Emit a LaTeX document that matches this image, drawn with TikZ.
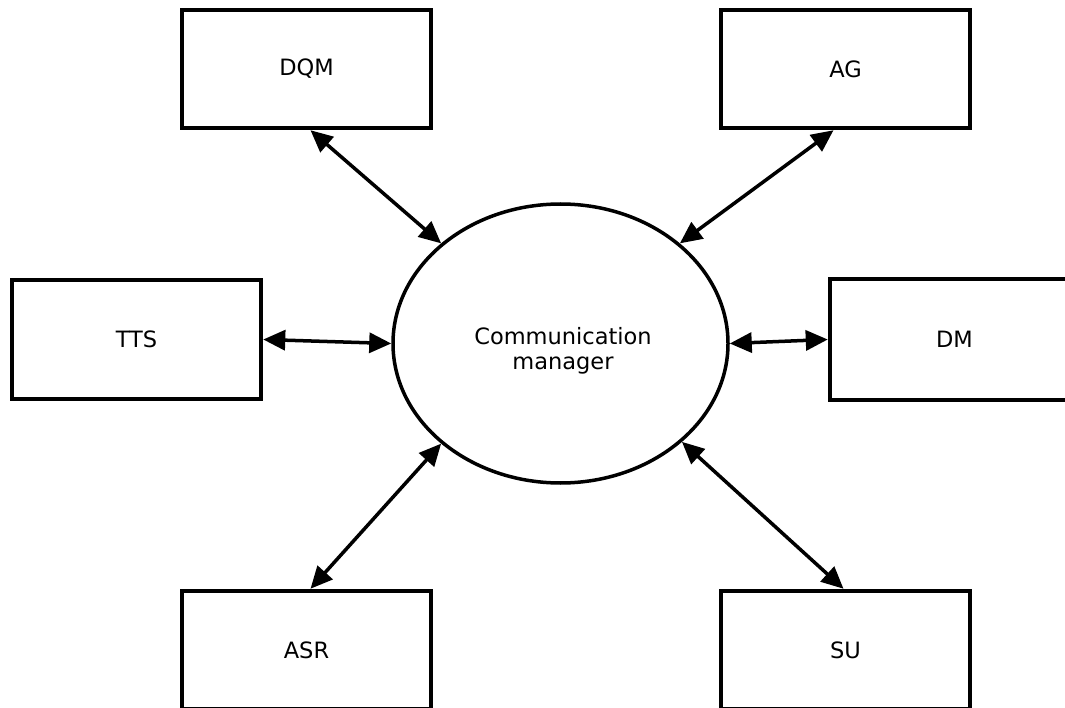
\documentclass[tikz,border=0pt]{standalone}
\usepackage{fontspec}
\setmainfont{DejaVu Sans}
\usetikzlibrary{arrows.meta,shapes.geometric}
\begin{document}
\begin{tikzpicture}[x=1pt,y=-1pt,
  box/.style={draw=black,line width=4.5pt,rectangle,minimum width=249pt,minimum height=118pt,inner sep=0pt,font=\fontsize{22.5}{26}\selectfont},
  hub/.style={draw=black,line width=3.5pt,ellipse,minimum width=335pt,minimum height=279pt,inner sep=0pt},
  hubtext/.style={align=center,inner sep=0pt,font=\fontsize{22.5}{25.5}\selectfont},
  link/.style={line width=3.5pt,{Triangle[length=22pt,width=20pt]}-{Triangle[length=22pt,width=20pt]}}]
\useasboundingbox (0,0) rectangle (1065,708);
\clip (0,0) rectangle (1065,708);
\fill[white] (0,0) rectangle (1065,708);
\node[hub] (cm) at (560.5,343.5) {};
\node[hubtext] (cmtext) at (563,351) {Communication\\manager};
\node[box] (dqm) at (306.5,69) {DQM};
\node[box] (ag) at (845.5,69) {AG};
\node[box,minimum height=119pt] (tts) at (136.5,339.5) {TTS};
\node[box,minimum height=121pt] (dm) at (954.5,339.5) {DM};
\node[box] (asr) at (306.5,650) {ASR};
\node[box] (su) at (845.5,650) {SU};
\draw[link] ([xshift=4pt]dqm.south) -- (cm.140);
\draw[link] ([xshift=-12pt]ag.south) -- (cm.40);
\draw[link] (tts.east) -- (cm.180);
\draw[link] (cm.0) -- (dm.west);
\draw[link] ([xshift=4pt]asr.north) -- (cm.220);
\draw[link] ([xshift=-2pt]su.north) -- (cm.-39);
\end{tikzpicture}
\end{document}
